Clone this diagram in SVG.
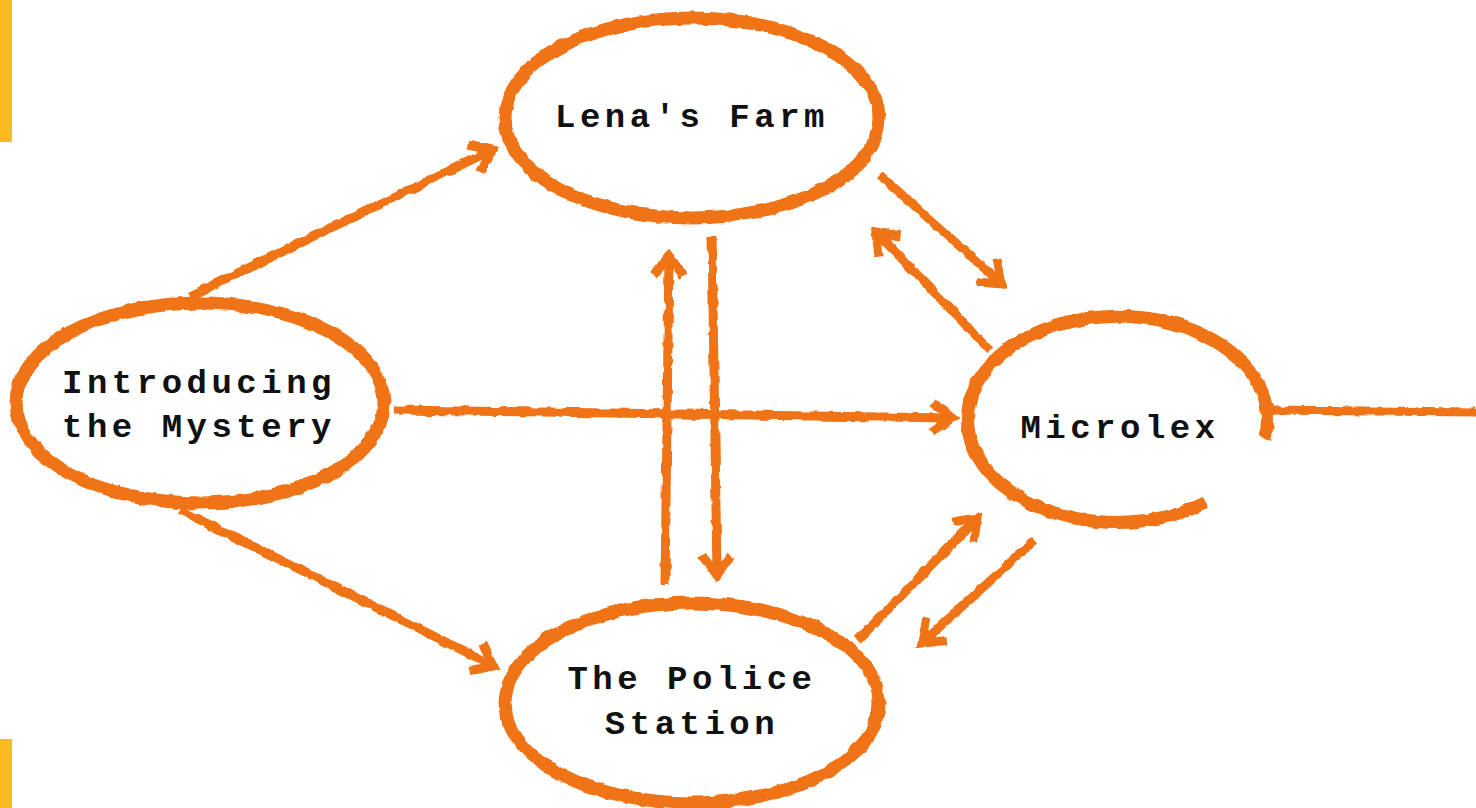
<svg xmlns="http://www.w3.org/2000/svg" width="1476" height="808" viewBox="0 0 1476 808">
<defs>
<filter id="rough" x="-10%" y="-10%" width="120%" height="120%">
<feTurbulence type="fractalNoise" baseFrequency="0.08" numOctaves="2" seed="3" result="n"/>
<feDisplacementMap in="SourceGraphic" in2="n" scale="5" xChannelSelector="R" yChannelSelector="G"/>
</filter>
<marker id="ah" markerUnits="userSpaceOnUse" markerWidth="40" markerHeight="40" viewBox="-30 -20 40 40" refX="0" refY="0" orient="auto">
<path d="M-20,-15 L0,0 L-20,15" fill="none" stroke="#F07317" stroke-width="9" stroke-linejoin="miter"/>
</marker>
</defs>
<style>
.node{fill:none;stroke:#F07317;stroke-width:13;}
.edge{fill:none;stroke:#F07317;stroke-width:9;stroke-linecap:butt;}
.lbl{font-family:"Liberation Mono","DejaVu Sans Mono",monospace;font-size:34px;font-weight:bold;fill:#111;letter-spacing:4.5px;text-anchor:middle;}
</style>
<rect width="1476" height="808" fill="#ffffff"/>
<rect x="0" y="0" width="12" height="142" fill="#FBBA1F"/>
<rect x="0" y="739" width="12" height="69" fill="#FBBA1F"/>
<g id="connectors" filter="url(#rough)">
<path class="edge" d="M190,296 L492,150" marker-end="url(#ah)"/>
<path class="edge" d="M180,510 L494,666" marker-end="url(#ah)"/>
<path class="edge" d="M395,410 L952,418" marker-end="url(#ah)"/>
<path class="edge" d="M665,585 L669,256" marker-end="url(#ah)"/>
<path class="edge" d="M712,236 L717,575" marker-end="url(#ah)"/>
<path class="edge" d="M880,175 L1002,284" marker-end="url(#ah)"/>
<path class="edge" d="M990,350 L876,232" marker-end="url(#ah)"/>
<path class="edge" d="M858,640 L977,518" marker-end="url(#ah)"/>
<path class="edge" d="M1035,540 L922,643" marker-end="url(#ah)"/>
<path class="edge" d="M1266,410 L1476,412"/>
</g>
<g id="n-lena">
<ellipse class="node" cx="692" cy="118" rx="187" ry="100" filter="url(#rough)"/>
<text class="lbl" x="692" y="127">Lena's Farm</text>
</g>
<g id="n-intro">
<ellipse class="node" cx="200" cy="403" rx="184" ry="100" filter="url(#rough)"/>
<text class="lbl" x="199" y="393">Introducing</text>
<text class="lbl" x="199" y="437">the Mystery</text>
</g>
<g id="n-microlex">
<path class="node" filter="url(#rough)" d="M1265,438 A150,103 0 1 0 1205,503"/>
<text class="lbl" x="1120" y="438">Microlex</text>
</g>
<g id="n-police">
<ellipse class="node" cx="692" cy="703" rx="187" ry="100" filter="url(#rough)"/>
<text class="lbl" x="692" y="689">The Police</text>
<text class="lbl" x="692" y="734">Station</text>
</g>
</svg>
